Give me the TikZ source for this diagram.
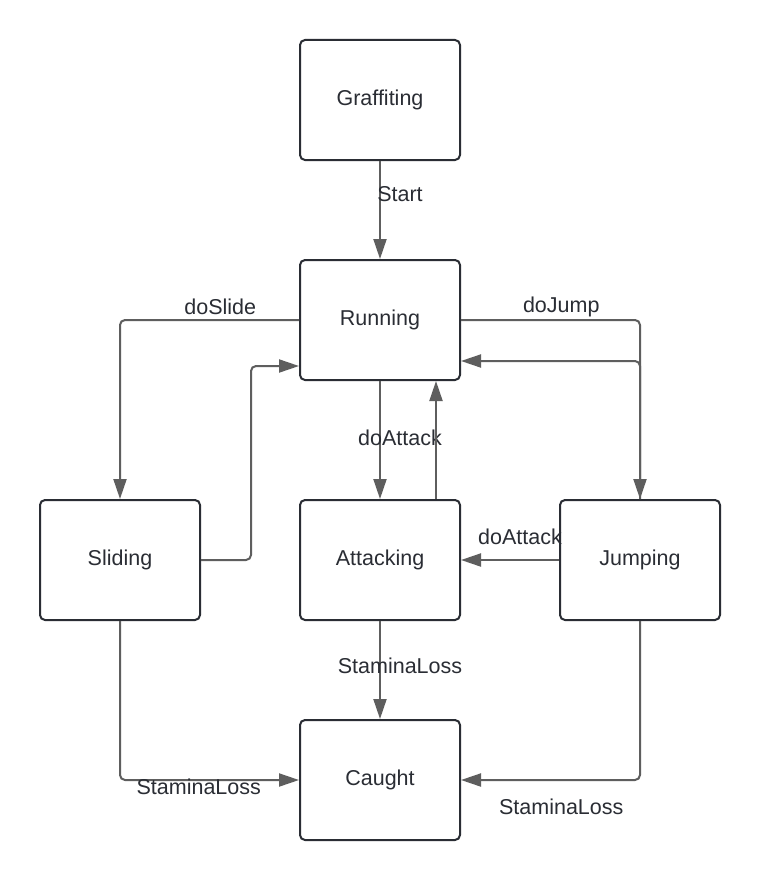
\documentclass[tikz,border=0pt]{standalone}
\usepackage{fontspec}
\setmainfont{Liberation Sans}
\usetikzlibrary{arrows.meta}
\definecolor{boxline}{RGB}{42,45,52}
\definecolor{connline}{RGB}{94,94,94}
\tikzset{
    state/.style={draw=boxline, line width=2pt, rounded corners=5pt, minimum width=160pt, minimum height=120pt, inner sep=0pt, text=boxline},
    conn/.style={draw=connline, line width=2pt, rounded corners=5pt, -{Triangle[length=20pt, width=13pt]}},
    lbl/.style={text=boxline, inner sep=0pt}
}

\begin{document}
\begin{tikzpicture}[x=1pt, y=-1pt, font=\fontsize{21.5}{26}\selectfont]
    \fill[white] (0, 0) rectangle (760, 880);
    \useasboundingbox (0, 0) rectangle (760, 880);
    \node[state] (graffiting) at (380, 100) {Graffiting};
    \node[state] (running) at (380, 320) {Running};
    \node[state] (sliding) at (120, 560) {Sliding};
    \node[state] (attacking) at (380, 560) {Attacking};
    \node[state] (jumping) at (640, 560) {Jumping};
    \node[state] (caught) at (380, 780) {Caught};
    \draw[conn] (graffiting.south) -- (running.north) node[lbl, midway, xshift=20pt, yshift=16pt] {Start};
    \draw[conn] (running.west) -| (sliding.north) node[lbl, pos=0.22, yshift=13pt] {doSlide};
    \draw[conn] (sliding.east) -- ++(50, 0) |- ([yshift=-46pt]running.west);
    \draw[conn] (running.east) -| (jumping.north) node[lbl, pos=0.28, yshift=13pt] {doJump};
    \draw[conn] (jumping.north) |- ([yshift=-41pt]running.east);
    \draw[conn] (running.south) -- (attacking.north) node[lbl, midway, xshift=20pt, yshift=2pt] {doAttack};
    \draw[conn] ([xshift=56pt]attacking.north) -- ([xshift=56pt]running.south);
    \draw[conn] (jumping.west) -- (attacking.east) node[lbl, midway, xshift=10pt, yshift=23pt] {doAttack};
    \draw[conn] (attacking.south) -- (caught.north) node[lbl, midway, xshift=20pt, yshift=4pt] {StaminaLoss};
    \draw[conn] (sliding.south) |- (caught.west) node[lbl, pos=0.72, yshift=-7pt] {StaminaLoss};
    \draw[conn] (jumping.south) |- (caught.east) node[lbl, pos=0.72, yshift=-27pt] {StaminaLoss};
\end{tikzpicture}
\end{document}
